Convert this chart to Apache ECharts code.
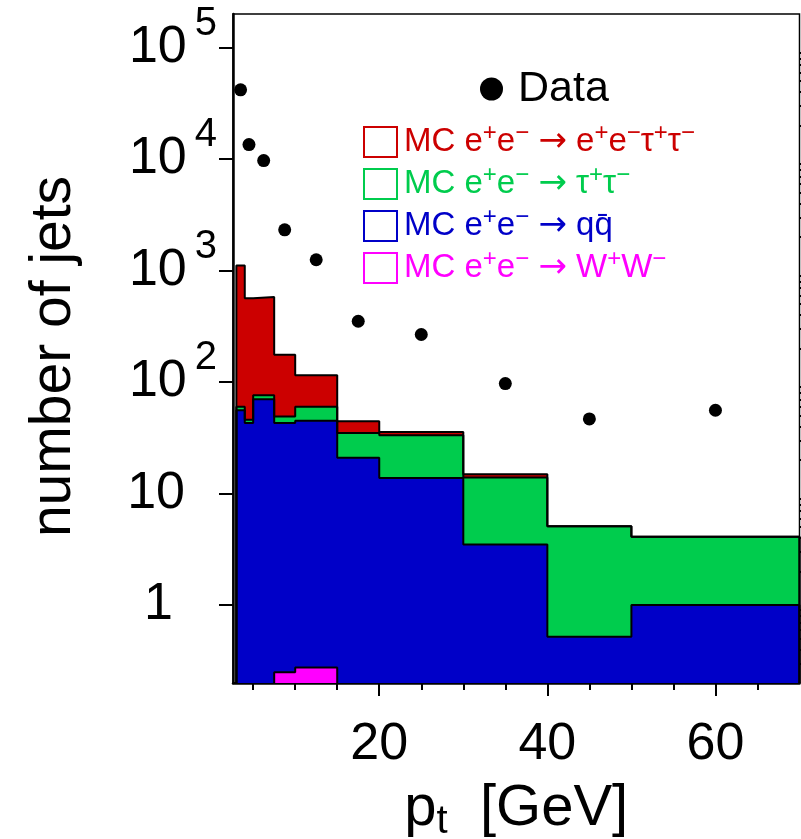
<!DOCTYPE html>
<html><head><meta charset="utf-8">
<script src="https://cdn.jsdelivr.net/npm/echarts@6/dist/echarts.min.js"></script>
<style>html,body{margin:0;padding:0;background:#fff}#c{width:801px;height:839px}</style>
</head><body><div id="c"></div>
<script>
// ---- data ----
const binEdges = [3, 4, 5, 7.5, 10, 15, 20, 30, 40, 50, 70];
// visible stack tops (cumulative) for each MC component
const stackEETauTau = [1110, 565, 580, 176, 115, 44.5, 35.7, 14.9, 5.1, 4.1];
const stackTauTau   = [60, 46, 76, 49, 60, 35, 33.4, 13.9, 5.1, 4.1];
const stackQQ       = [56, 43, 70, 43, 45, 21, 13.8, 3.5, 0.52, 1.0];
const wwEdges = [7.5, 10, 15];
const stackWW = [0.25, 0.275];
const dataX = [3.5, 4.5, 6.25, 8.75, 12.5, 17.5, 25, 35, 45, 60];
const dataY = [41800, 13500, 9700, 2320, 1250, 351, 267, 97, 46.7, 55.9];
const xMajorTicks = [20, 40, 60];
const xMinorTicks = [5, 10, 15, 25, 30, 35, 45, 50, 55, 65];
const yMajorTicks = [1, 10, 100, 1000, 10000, 100000];
const yMinorMultipliers = [2, 3, 4, 5, 6, 7, 8, 9];

const X_MIN = 2.6, X_MAX = 70, Y_MIN = 0.2, Y_MAX = 2e5;
const FONT = "'Liberation Sans', Arial, Helvetica, sans-serif";
const RED = '#cc0000', GREEN = '#00cc4d', BLUE = '#0000c8', MAGENTA = '#ff00ff';

const yMinorTicks = [];
[0.1].concat(yMajorTicks).forEach(d => yMinorMultipliers.forEach(m => {
  const v = +(d * m).toPrecision(3);
  if (v > Y_MIN && v < Y_MAX) yMinorTicks.push(v);
}));

function stepData(edges, vals) {
  const pts = [[edges[0], Y_MIN]];
  for (let i = 0; i < vals.length; i++) pts.push([edges[i], vals[i]]);
  pts.push([edges[edges.length - 1], vals[vals.length - 1]]);
  pts.push([edges[edges.length - 1], Y_MIN]);
  return pts;
}
function histSeries(name, edges, vals, color) {
  return {
    name, type: 'line', xAxisIndex: 0, yAxisIndex: 0,
    step: 'end', symbol: 'none', showSymbol: false, silent: true,
    data: stepData(edges, vals),
    lineStyle: { color: '#000', width: 2 },
    itemStyle: { color },
    areaStyle: { color, opacity: 1, origin: 'start' }
  };
}

const sup = s => '{s|' + s + '}';
const arrow = '{a|\u2192}';
const ee = 'MC e' + sup('+') + 'e' + sup('\u2212') + ' ' + arrow + ' ';
const legendText = {
  'eetautau': ee + 'e' + sup('+') + 'e' + sup('\u2212') + '\u03c4' + sup('+') + '\u03c4' + sup('\u2212'),
  'tautau': ee + '\u03c4' + sup('+') + '\u03c4' + sup('\u2212'),
  'qq': ee + 'qq\u0304',
  'ww': ee + 'W' + sup('+') + 'W' + sup('\u2212')
};

const chart = echarts.init(document.getElementById('c'), null, { renderer: 'canvas' });
const axisCommon = { min: X_MIN, max: X_MAX, splitLine: { show: false } };
chart.setOption({
  animation: false,
  backgroundColor: '#fff',
  textStyle: { fontFamily: FONT },
  grid: { left: 233, right: 1.5, top: 14, bottom: 156, show: true, borderColor: '#000', borderWidth: 1.5, containLabel: false, outerBoundsMode: 'none' },
  xAxis: [
    Object.assign({}, axisCommon, {
      type: 'value', position: 'bottom',
      axisLine: { show: true, lineStyle: { color: '#000', width: 2.5 } },
      axisTick: { show: true, customValues: xMajorTicks, length: 13, lineStyle: { color: '#000', width: 2 } },
      axisLabel: { show: true, customValues: xMajorTicks, color: '#000', fontSize: 52, fontFamily: FONT, margin: 36 },
      name: '{p|p}{t|t}{g|  [GeV]}', nameLocation: 'middle', nameGap: 86,
      nameTextStyle: { color: '#000', fontFamily: FONT, rich: {
        p: { fontSize: 58, lineHeight: 58, fontFamily: FONT, color: '#000' },
        t: { fontSize: 40, lineHeight: 40, padding: [26, 0, 0, 0], fontFamily: FONT, color: '#000' },
        g: { fontSize: 58, lineHeight: 58, fontFamily: FONT, color: '#000' }
      } }
    }),
    Object.assign({}, axisCommon, {
      type: 'value', position: 'bottom',
      axisLine: { show: false },
      axisTick: { show: true, customValues: xMinorTicks, length: 7, lineStyle: { color: '#000', width: 2 } },
      axisLabel: { show: false }
    })
  ],
  yAxis: [
    {
      type: 'log', min: Y_MIN, max: Y_MAX, splitLine: { show: false },
      axisLine: { show: true, lineStyle: { color: '#000', width: 2.5 } },
      axisTick: { show: true, customValues: yMajorTicks, length: 14, lineStyle: { color: '#000', width: 2 } },
      axisLabel: {
        show: true, customValues: yMajorTicks, margin: 16, align: 'right', color: '#000', fontFamily: FONT,
        formatter: v => {
          const e = Math.round(Math.log10(v));
          if (e === 0) return '{one|1}';
          if (e === 1) return '{ten|10}';
          return '{b|10}{e|' + e + '}';
        },
        rich: {
          one: { fontSize: 52, lineHeight: 52, padding: [0, 44, 0, 0], fontFamily: FONT, color: '#000' },
          ten: { fontSize: 52, lineHeight: 52, padding: [0, 32, 0, 0], fontFamily: FONT, color: '#000' },
          b: { fontSize: 52, lineHeight: 52, verticalAlign: 'middle', fontFamily: FONT, color: '#000' },
          e: { fontSize: 40, lineHeight: 40, padding: [0, 0, 48, 8], verticalAlign: 'middle', fontFamily: FONT, color: '#000' }
        }
      },
      name: 'number of jets', nameLocation: 'middle', nameGap: 150, nameRotate: 90,
      nameTextStyle: { color: '#000', fontSize: 57, fontFamily: FONT, padding: [0, 16, 0, 0] }
    },
    {
      type: 'log', min: Y_MIN, max: Y_MAX, splitLine: { show: false },
      axisLine: { show: false },
      axisTick: { show: true, customValues: yMinorTicks, length: 8, lineStyle: { color: '#000', width: 2 } },
      axisLabel: { show: false }
    }
  ],
  legend: [
    {
      data: [{ name: 'Data', icon: 'circle', itemStyle: { color: '#000', opacity: 1 } }],
      left: 480, top: 67, padding: 0, itemWidth: 23, itemHeight: 23, orient: 'vertical', selectedMode: false,
      formatter: n => '{d|' + n + '}',
      textStyle: { color: '#000', fontSize: 43, lineHeight: 44, fontFamily: FONT, rich: { d: { fontSize: 43, lineHeight: 44, padding: [0, 0, 0, 10], fontFamily: FONT, color: '#000' } } }
    },
    {
      data: [
        { name: 'eetautau', icon: 'rect', itemStyle: { color: 'rgba(0,0,0,0)', borderColor: RED, borderWidth: 2 }, textStyle: { color: RED } },
        { name: 'tautau', icon: 'rect', itemStyle: { color: 'rgba(0,0,0,0)', borderColor: GREEN, borderWidth: 2 }, textStyle: { color: GREEN } },
        { name: 'qq', icon: 'rect', itemStyle: { color: 'rgba(0,0,0,0)', borderColor: BLUE, borderWidth: 2 }, textStyle: { color: BLUE } },
        { name: 'ww', icon: 'rect', itemStyle: { color: 'rgba(0,0,0,0)', borderColor: MAGENTA, borderWidth: 2 }, textStyle: { color: MAGENTA } }
      ],
      left: 363, top: 121, padding: 0, orient: 'vertical', itemWidth: 33, itemHeight: 30, itemGap: 0, selectedMode: false,
      formatter: n => legendText[n],
      textStyle: { fontSize: 33, lineHeight: 40, fontFamily: FONT, padding: [0, 0, 0, 2],
        rich: {
          s: { fontSize: 24, lineHeight: 22, padding: [0, 0, 18, 0], fontFamily: FONT },
          a: { fontSize: 34, lineHeight: 40, fontFamily: "'DejaVu Sans', sans-serif" }
        } }
    }
  ],
  series: [
    histSeries('eetautau', binEdges, stackEETauTau, RED),
    histSeries('tautau', binEdges, stackTauTau, GREEN),
    histSeries('qq', binEdges, stackQQ, BLUE),
    histSeries('ww', wwEdges, stackWW, MAGENTA),
    {
      name: 'Data', type: 'scatter', xAxisIndex: 0, yAxisIndex: 0, symbol: 'circle', symbolSize: 13,
      itemStyle: { color: '#000', opacity: 1 }, silent: true, z: 5,
      data: dataX.map((x, i) => [x, dataY[i]])
    }
  ]
});
</script></body></html>
